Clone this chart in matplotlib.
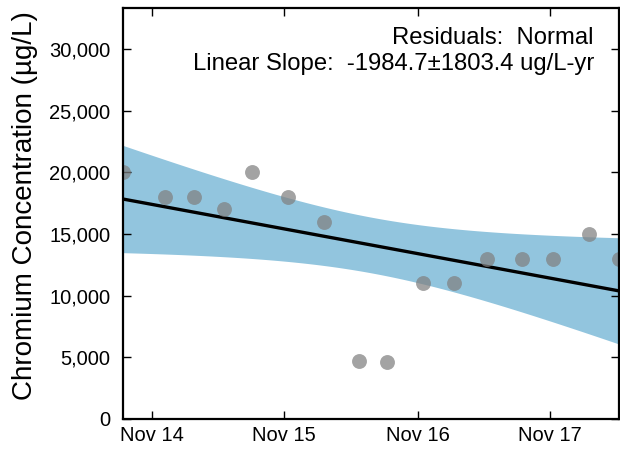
import matplotlib
matplotlib.use("Agg")
import matplotlib.pyplot as plt
import matplotlib.dates as mdates
import matplotlib.ticker as mticker
import numpy as np

plt.rcParams["font.family"] = ["Liberation Sans", "DejaVu Sans"]

# Sample dates and chromium results (ug/L)
sample_dates = np.array([
    "2014-08-14", "2014-12-08", "2015-02-27", "2015-05-20",
    "2015-08-05", "2015-11-10", "2016-02-17", "2016-05-23",
    "2016-08-09", "2016-11-16", "2017-02-08", "2017-05-10",
    "2017-08-14", "2017-11-07", "2018-02-14", "2018-05-08",
], dtype="datetime64[D]")
concentrations = np.array([
    20000, 18000, 18000, 17000,
    20000, 18000, 16000, 4700,
    4600, 11000, 11000, 13000,
    13000, 13000, 15000, 13000,
], dtype=float)

residuals_label = "Normal"
slope_label = "-1984.7\u00b11803.4 ug/L-yr"
t_crit = 2.145  # 95%, 14 degrees of freedom

# Linear fit with a confidence band on the mean
x_num = mdates.date2num(sample_dates.astype("datetime64[ms]").astype(object))
x_years = (x_num - x_num[0]) / 365.25
slope, intercept = np.polyfit(x_years, concentrations, 1)
fitted = slope * x_years + intercept
n = len(x_years)
s_err = np.sqrt(np.sum((concentrations - fitted) ** 2) / (n - 2))
x_grid = np.linspace(x_years.min(), x_years.max(), 200)
y_grid = slope * x_grid + intercept
half_width = t_crit * s_err * np.sqrt(
    1 / n + (x_grid - x_years.mean()) ** 2 / np.sum((x_years - x_years.mean()) ** 2)
)
grid_dates = x_grid * 365.25 + x_num[0]

fig = plt.figure(figsize=(6.2, 4.51), dpi=100)
ax = fig.add_axes([0.198, 0.071, 0.8, 0.911])

ax.fill_between(grid_dates, y_grid - half_width, y_grid + half_width,
                color="#92c5de", linewidth=0, zorder=1)
ax.plot(grid_dates, y_grid, color="black", linewidth=2.4, zorder=2)
ax.scatter(x_num, concentrations, s=115, color="#808080", alpha=0.72,
           linewidths=0, zorder=3, clip_on=True)

ax.set_xlim(x_num[0], x_num[-1])
ax.set_ylim(0, 33300)

ax.xaxis.set_major_locator(mdates.MonthLocator(bymonth=11))
ax.xaxis.set_major_formatter(mdates.DateFormatter("%b %y"))
ax.yaxis.set_major_locator(mticker.MultipleLocator(5000))
ax.yaxis.set_major_formatter(mticker.FuncFormatter(lambda v, p: f"{v:,.0f}"))

for spine in ax.spines.values():
    spine.set_linewidth(1.6)
    spine.set_zorder(5)

ax.tick_params(axis="both", which="both", direction="in", length=6, width=1,
               top=True, right=True, labelsize=14.5, zorder=5)
ax.tick_params(axis="y", pad=9)
ax.tick_params(axis="x", pad=5)

ax.set_ylabel("Chromium Concentration (\u00b5g/L)", fontsize=20, labelpad=6)
ax.yaxis.set_label_coords(-0.171, 0.52)

ax.text(0.95, 0.912, f"Residuals:  {residuals_label}", transform=ax.transAxes,
        ha="right", va="baseline", fontsize=17.2)
ax.text(0.95, 0.849, f"Linear Slope:  {slope_label}", transform=ax.transAxes,
        ha="right", va="baseline", fontsize=17.2)

fig.savefig("out.png", dpi=100)
